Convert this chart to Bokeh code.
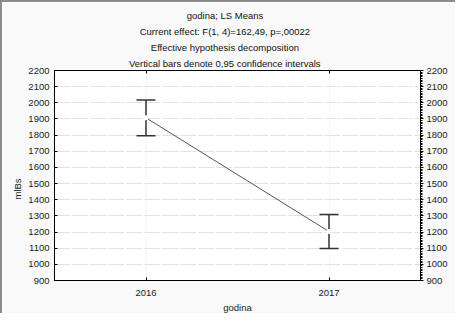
from bokeh.plotting import figure
from bokeh.models import (LinearAxis, FixedTicker, Range1d, Whisker, ColumnDataSource,
                          Title, TeeHead)
from bokeh.embed import file_html
from bokeh.resources import INLINE

# ---- data ----
years = [2016, 2017]
means = [1907, 1203]
lower = [1796, 1098]
upper = [2018, 1308]
y_ticks = list(range(900, 2201, 100))
x_ticks = [2016, 2017]
titles = ["godina; LS Means",
          "Current effect: F(1, 4)=162,49, p=,00022",
          "Effective hypothesis decomposition",
          "Vertical bars denote 0,95 confidence intervals"]
x_label = "godina"
y_label = "mlBs"

FONT = "Liberation Sans"
TXT = "#222222"
TITLE_PX = 9.5

# Arial/Liberation Sans advance widths (1/1000 em), used only to centre titles on the figure
W = dict(zip("abcdefghijklmnopqrstuvwxyz",
             [556, 556, 500, 556, 556, 278, 556, 556, 222, 222, 500, 222, 833, 556, 556, 556,
              556, 333, 500, 278, 556, 500, 722, 500, 500, 500]))
W.update({"C": 722, "E": 667, "F": 611, "L": 556, "M": 833, "S": 667, "V": 667, " ": 278,
          ";": 278, ":": 278, "(": 333, ")": 333, ",": 278, "=": 584, ".": 278})
W.update({d: 556 for d in "0123456789"})


def text_w(s, px):
    return sum(W.get(c, 556) for c in s) * px / 1000.0


FRAME_LEFT_IN_CANVAS = 52
CANVAS_W = 455
TARGET_CENTER = 222.5  # centre of the chart area, canvas px (empirical)

p = figure(width=CANVAS_W, height=313, x_range=Range1d(2015.5, 2017.5),
           y_range=Range1d(900, 2200), output_backend="svg", toolbar_location=None,
           min_border_left=FRAME_LEFT_IN_CANVAS, min_border_right=37, min_border_top=68,
           min_border_bottom=35,
           background_fill_color="#ffffff", border_fill_color="#f9f9f9")
p.styles = {"border-left": "2px solid #8c8c8c", "border-top": "2px solid #8c8c8c"}
p.outline_line_color = "black"

# bottom axis
xa = p.xaxis[0]
xa.ticker = FixedTicker(ticks=x_ticks)
xa.major_tick_in = 3
xa.major_tick_out = 0
xa.minor_tick_line_color = None
xa.axis_line_color = "black"
xa.major_tick_line_color = "black"
xa.major_label_text_font = FONT
xa.major_label_text_font_size = "9.5px"
xa.major_label_text_color = TXT
xa.major_label_standoff = 9
xa.axis_label = x_label
xa.axis_label_text_font = FONT
xa.axis_label_text_font_style = "normal"
xa.axis_label_text_font_size = "9.5px"
xa.axis_label_text_color = TXT
xa.axis_label_standoff = 3

# left axis
ya = p.yaxis[0]
ya.ticker = FixedTicker(ticks=y_ticks)
ya.major_tick_in = 3
ya.major_tick_out = 0
ya.minor_tick_line_color = None
ya.axis_line_color = "black"
ya.major_tick_line_color = "black"
ya.major_label_text_font = FONT
ya.major_label_text_font_size = "9.5px"
ya.major_label_text_color = TXT
ya.major_label_standoff = 5

# top axis (ticks only)
ta = LinearAxis(ticker=FixedTicker(ticks=x_ticks), major_tick_in=3, major_tick_out=0,
                minor_tick_line_color=None, major_label_text_color=None,
                major_label_text_font_size="1px", major_label_standoff=0,
                axis_line_color="black", major_tick_line_color="black")
p.add_layout(ta, "above")

# right axis
ra = LinearAxis(ticker=FixedTicker(ticks=y_ticks, minor_ticks=list(range(900, 2201, 10))),
                major_tick_in=0, major_tick_out=3, minor_tick_in=0, minor_tick_out=2,
                axis_line_color="black", major_tick_line_color="black",
                minor_tick_line_color="black",
                major_label_text_font=FONT, major_label_text_font_size="9.5px",
                major_label_text_color=TXT, major_label_standoff=3)
p.add_layout(ra, "right")

# grids
p.xgrid.ticker = FixedTicker(ticks=x_ticks)
p.xgrid.grid_line_color = "#e4e4e4"
p.xgrid.grid_line_dash = "1 2"
p.ygrid.ticker = FixedTicker(ticks=y_ticks)
p.ygrid.grid_line_color = "#e2e2e2"
p.ygrid.grid_line_dash = "16 2"

src = ColumnDataSource(dict(x=years, m=means, lo=lower, hi=upper))

p.line("x", "m", source=src, line_color="#555555", line_width=1)
w = Whisker(base="x", lower="lo", upper="hi", source=src, line_color="#333333", line_width=1.5,
            upper_head=TeeHead(size=19, line_color="#333333", line_width=1.5),
            lower_head=TeeHead(size=19, line_color="#333333", line_width=1.5))
p.add_layout(w)
p.scatter("x", "m", source=src, size=5, fill_color="white", line_color=None)

# titles (added bottom-most first; later ones stack further out)
p.title.visible = False
for t in reversed(titles):
    off = TARGET_CENTER - FRAME_LEFT_IN_CANVAS - text_w(t, TITLE_PX) / 2
    p.add_layout(Title(text=t, align="left", offset=off, standoff=3,
                       text_font=FONT, text_font_size=f"{TITLE_PX}px",
                       text_font_style="normal", text_color="#111111"), "above")

# y label
p.add_layout(Title(text=y_label, align="left", offset=81, standoff=6,
                   text_font=FONT, text_font_size="9.5px", text_font_style="normal",
                   text_color=TXT), "left")

open("out.html", "w").write(file_html(p, INLINE))
